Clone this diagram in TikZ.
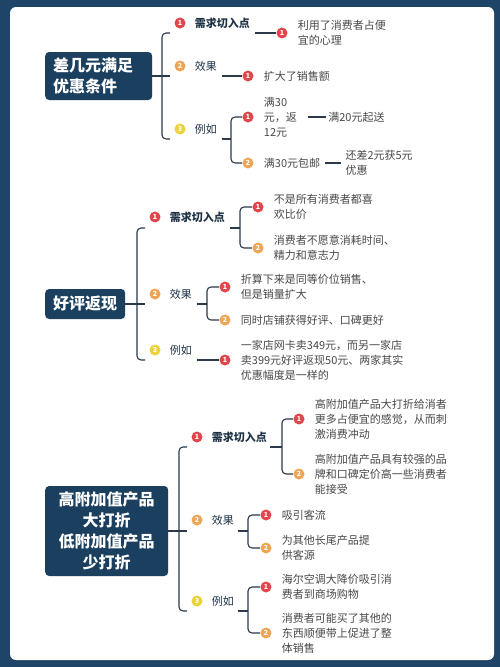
\documentclass[tikz,border=0pt]{standalone}
\usepackage{fontspec}
\setmainfont{Noto Sans CJK SC}
\usetikzlibrary{positioning}
\definecolor{bgblue}{HTML}{1E4567}
\definecolor{boxblue}{HTML}{1B3F5F}
\definecolor{linkblue}{HTML}{2B3A4A}
\definecolor{topicblue}{HTML}{1F3347}
\definecolor{leafgray}{HTML}{484848}
\definecolor{nred}{HTML}{E0464B}
\definecolor{norange}{HTML}{EEA656}
\definecolor{nyellow}{HTML}{ECD23A}
\tikzset{
  mainbox/.style={fill=boxblue, text=white, rounded corners=4pt, anchor=west,
    font=\fontsize{16}{21}\selectfont\bfseries, inner xsep=8pt, inner ysep=4pt},
  num/.style={circle, inner sep=0pt, minimum size=11pt, text=white,
    font=\fontsize{7}{7}\selectfont\bfseries},
  topic/.style={inner sep=0pt, text=topicblue, font=\fontsize{11}{14}\selectfont},
  leaf/.style={inner sep=0pt, align=left, text=leafgray, font=\fontsize{11}{15}\selectfont},
  link/.style={draw=linkblue, line width=1.1pt},
  brace/.style={link, rounded corners=4pt},
}
\begin{document}
\begin{tikzpicture}[x=1pt, y=-1pt]
\fill[bgblue] (0,0) rectangle (500,667);
\fill[white, rounded corners=6pt] (10,7) rectangle (494,660);

% ---- 差几元满足优惠条件
\node[mainbox, text width=91pt, minimum height=48pt, align=left] (m1) at (45,76) {差几元满足\\优惠条件};
\coordinate (j1) at (162,76);
\coordinate (e11) at (170,33);
\coordinate (e12) at (170,76);
\coordinate (e13) at (170,139);
\draw[link] (m1.east) -- (e12);
\draw[brace] (e11) -| (j1) |- (e13);
\node[num, fill=nred] (a11) at (180,23) {1};
\node[topic, right=9pt of a11, font=\fontsize{11}{14}\selectfont\bfseries] (t11) {需求切入点};
\node[num, fill=norange] (a12) at (180,66) {2};
\node[topic, right=9pt of a12] (t12) {效果};
\node[num, fill=nyellow] (a13) at (180,129) {3};
\node[topic, right=9pt of a13] (t13) {例如};

\coordinate (s11) at (255,33);
\node[num, fill=nred] (b111) at (282,33) {1};
\node[leaf, right=10pt of b111] (l111) {利用了消费者占便\\宜的心理};
\draw[link] (s11) -- (b111);

\coordinate (s12) at (222,76);
\node[num, fill=nred] (b121) at (248,76) {1};
\node[leaf, right=10pt of b121] (l121) {扩大了销售额};
\draw[link] (s12) -- (b121);

\coordinate (s13) at (222,139);
\coordinate (j13) at (231,139);
\coordinate (g131) at (242,117);
\coordinate (g132) at (242,163);
\draw[link] (s13) -- (j13);
\draw[brace] (g131) -| (j13) |- (g132);
\node[num, fill=nred] (b131) at (248,117) {1};
\node[leaf, right=10pt of b131] (l131) {满30\\元，返\\12元};
\node[leaf, right=31pt of l131] (l131x) {满20元起送};
\draw[link] ([xshift=11pt]l131.east) -- ([xshift=-2pt]l131x.west);
\node[num, fill=norange] (b132) at (248,163) {2};
\node[leaf, right=10pt of b132] (l132) {满30元包邮};
\node[leaf, right=25pt of l132] (l132x) {还差2元获5元\\优惠};
\draw[link] ([xshift=5pt]l132.east) -- ([xshift=-4pt]l132x.west);

% ---- 好评返现
\node[mainbox, minimum height=30pt] (m2) at (45,304) {好评返现};
\coordinate (j2) at (137,304);
\coordinate (e21) at (145,228);
\coordinate (e22) at (145,304);
\coordinate (e23) at (145,360);
\draw[link] (m2.east) -- (e22);
\draw[brace] (e21) -| (j2) |- (e23);
\node[num, fill=nred] (a21) at (155,217) {1};
\node[topic, right=9pt of a21, font=\fontsize{11}{14}\selectfont\bfseries] (t21) {需求切入点};
\node[num, fill=norange] (a22) at (155,294) {2};
\node[topic, right=9pt of a22] (t22) {效果};
\node[num, fill=nyellow] (a23) at (155,350) {3};
\node[topic, right=9pt of a23] (t23) {例如};

\coordinate (s21) at (230,228);
\coordinate (j21) at (240,228);
\coordinate (g211) at (252,207);
\coordinate (g212) at (252,248);
\draw[link] (s21) -- (j21);
\draw[brace] (g211) -| (j21) |- (g212);
\node[num, fill=nred] (b211) at (258,207) {1};
\node[leaf, right=10pt of b211] (l211) {不是所有消费者都喜\\欢比价};
\node[num, fill=norange] (b212) at (258,248) {2};
\node[leaf, right=10pt of b212] (l212) {消费者不愿意消耗时间、\\精力和意志力};

\coordinate (s22) at (197,304);
\coordinate (j22) at (207,304);
\coordinate (g221) at (219,287);
\coordinate (g222) at (219,320);
\draw[link] (s22) -- (j22);
\draw[brace] (g221) -| (j22) |- (g222);
\node[num, fill=nred] (b221) at (225,287) {1};
\node[leaf, right=10pt of b221] (l221) {折算下来是同等价位销售、\\但是销量扩大};
\node[num, fill=norange] (b222) at (225,320) {2};
\node[leaf, right=10pt of b222] (l222) {同时店铺获得好评、口碑更好};

\coordinate (s23) at (197,360);
\node[num, fill=nred] (b231) at (225,360) {1};
\node[leaf, right=10pt of b231] (l231) {一家店网卡卖349元，而另一家店\\卖399元好评返现50元、两家其实\\优惠幅度是一样的};
\draw[link] (s23) -- (b231);

% ---- 高附加值产品大打折 低附加值产品少打折
\node[mainbox, text width=107pt, minimum height=90pt, align=center, inner xsep=8pt] (m3) at (45,531) {高附加值产品\\大打折\\低附加值产品\\少打折};
\coordinate (j3) at (179,531);
\coordinate (e31) at (187,447);
\coordinate (e32) at (187,531);
\coordinate (e33) at (187,611);
\draw[link] (m3.east) -- (e32);
\draw[brace] (e31) -| (j3) |- (e33);
\node[num, fill=nred] (a31) at (197,437) {1};
\node[topic, right=9pt of a31, font=\fontsize{11}{14}\selectfont\bfseries] (t31) {需求切入点};
\node[num, fill=norange] (a32) at (197,520) {2};
\node[topic, right=9pt of a32] (t32) {效果};
\node[num, fill=nyellow] (a33) at (197,601) {3};
\node[topic, right=9pt of a33] (t33) {例如};

\coordinate (s31) at (270,447);
\coordinate (j31) at (282,447);
\coordinate (g311) at (293,419);
\coordinate (g312) at (293,474);
\draw[link] (s31) -- (j31);
\draw[brace] (g311) -| (j31) |- (g312);
\node[num, fill=nred] (b311) at (299,419) {1};
\node[leaf, right=10pt of b311] (l311) {高附加值产品大打折给消者\\更多占便宜的感觉，从而刺\\激消费冲动};
\node[num, fill=norange] (b312) at (299,474) {2};
\node[leaf, right=10pt of b312] (l312) {高附加值产品具有较强的品\\牌和口碑定价高一些消费者\\能接受};

\coordinate (s32) at (238,531);
\coordinate (j32) at (248,531);
\coordinate (g321) at (260,515);
\coordinate (g322) at (260,548);
\draw[link] (s32) -- (j32);
\draw[brace] (g321) -| (j32) |- (g322);
\node[num, fill=nred] (b321) at (266,515) {1};
\node[leaf, right=10pt of b321] (l321) {吸引客流};
\node[num, fill=norange] (b322) at (266,548) {2};
\node[leaf, right=10pt of b322] (l322) {为其他长尾产品提\\供客源};

\coordinate (s33) at (238,611);
\coordinate (j33) at (248,611);
\coordinate (g331) at (260,587);
\coordinate (g332) at (260,633);
\draw[link] (s33) -- (j33);
\draw[brace] (g331) -| (j33) |- (g332);
\node[num, fill=nred] (b331) at (266,587) {1};
\node[leaf, right=10pt of b331] (l331) {海尔空调大降价吸引消\\费者到商场购物};
\node[num, fill=norange] (b332) at (266,633) {2};
\node[leaf, right=10pt of b332] (l332) {消费者可能买了其他的\\东西顺便带上促进了整\\体销售};
\end{tikzpicture}
\end{document}
